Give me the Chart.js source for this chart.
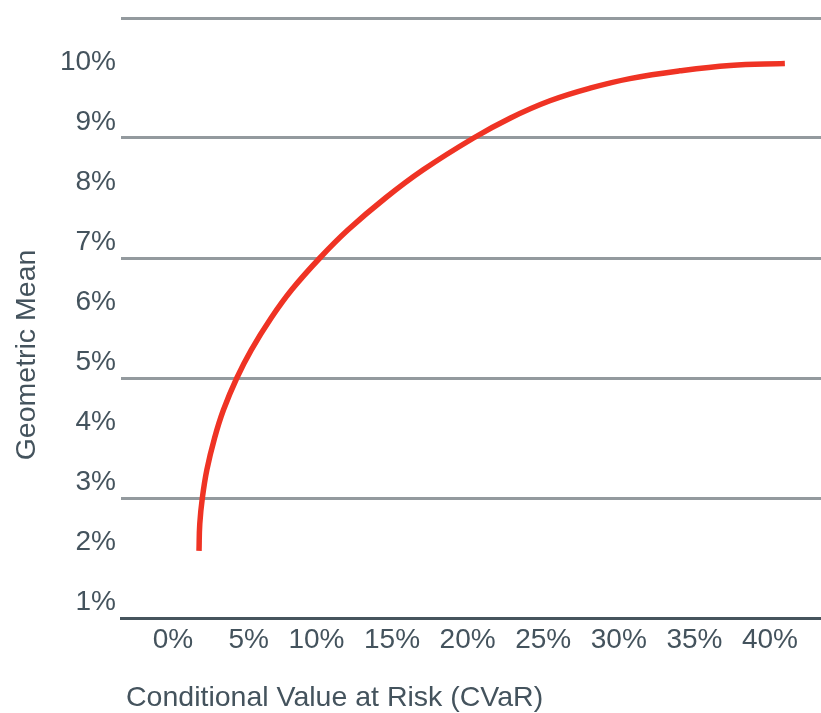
<!DOCTYPE html>
<html lang="en">
<head>
  <meta charset="UTF-8">
  <title>Geometric Mean vs CVaR</title>
  <style>
    html, body { margin: 0; padding: 0; background: #fff; }
    #wrap { width: 821px; height: 713px; }
  </style>
  <script src="https://cdn.jsdelivr.net/npm/chart.js"></script>
</head>
<body>
  <div id="wrap"><canvas id="chart"></canvas></div>

  <script>
    // frontier (percent)
    const cvar    = [0.38, 0.43, 0.60, 0.90, 1.41, 2.00, 2.88, 3.84, 5.15, 6.51, 8.37,
                     10.24, 12.71, 15.21, 18.54, 20.95, 23.59, 26.24, 28.88, 32.19, 35.50, 39.13];
    const geoMean = [1.83, 2.28, 2.71, 3.18, 3.71, 4.18, 4.71, 5.18, 5.71, 6.18, 6.71,
                     7.18, 7.71, 8.18, 8.71, 9.04, 9.33, 9.54, 9.70, 9.83, 9.92, 9.95];

    const xTicks = [0, 5, 10, 15, 20, 25, 30, 35, 40];
    const yTicks = [1, 2, 3, 4, 5, 6, 7, 8, 9, 10];
    // horizontal rules sit between the labels, not on them
    const yRules = [2.71, 4.71, 6.71, 8.71, 10.71];

    const xTitle = 'Conditional Value at Risk (CVaR)';
    const yTitle = 'Geometric Mean';

    const textColor = '#44535d';
    const ruleColor = '#939a9e';
    const axisColor = '#46545d';
    const lineColor = '#ef3324';
    const fontFamily = '"Liberation Sans", Arial, sans-serif';

    Chart.defaults.font.family = fontFamily;
    Chart.defaults.font.size = 28;
    Chart.defaults.color = textColor;

    // axis titles are placed off-centre in the original, so draw them here
    const axisTitles = {
      id: 'axisTitles',
      afterDraw(chart) {
        const { ctx, chartArea } = chart;
        ctx.save();
        ctx.fillStyle = textColor;
        ctx.font = '28.5px ' + fontFamily;
        ctx.textBaseline = 'alphabetic';
        ctx.textAlign = 'left';
        ctx.fillText(xTitle, chartArea.left + 5, chartArea.bottom + 88);
        ctx.translate(35, chartArea.top + 337);
        ctx.rotate(-Math.PI / 2);
        ctx.textAlign = 'center';
        ctx.fillText(yTitle, 0, 0);
        ctx.restore();
      }
    };

    new Chart(document.getElementById('chart'), {
      type: 'line',
      data: {
        datasets: [{
          label: yTitle,
          data: cvar.map((x, i) => ({ x, y: geoMean[i] })),
          borderColor: lineColor,
          borderWidth: 5.5,
          pointRadius: 0,
          fill: false,
          tension: 0.4
        }]
      },
      options: {
        responsive: true,
        maintainAspectRatio: false,
        animation: false,
        layout: { padding: { top: 18, left: 0, right: 0, bottom: 0 } },
        plugins: {
          legend: { display: false },
          tooltip: { enabled: false }
        },
        scales: {
          x: {
            type: 'linear',
            min: -4.78,
            max: 41.52,
            afterBuildTicks: s => { s.ticks = xTicks.map(v => ({ value: v })); },
            afterFit: s => { s.height = 95; s.paddingLeft = 0; s.paddingRight = 0; },
            grid: { display: false, drawTicks: false },
            border: { color: axisColor, width: 3 },
            ticks: {
              align: 'end',
              padding: 5,
              maxRotation: 0,
              autoSkip: false,
              callback: v => v + '%'
            }
          },
          y: {
            type: 'linear',
            min: 0.71,
            max: 10.71,
            afterBuildTicks: s => {
              s.ticks = yTicks.concat(yRules).sort((a, b) => a - b).map(v => ({ value: v }));
            },
            afterFit: s => { s.width = 121; s.paddingTop = 0; s.paddingBottom = 0; },
            border: { display: false },
            grid: {
              drawTicks: false,
              lineWidth: 3,
              color: c => yRules.includes(c.tick.value) ? ruleColor : 'transparent'
            },
            ticks: {
              padding: 5,
              labelOffset: 2,
              autoSkip: false,
              callback: v => yTicks.includes(v) ? v + '%' : ''
            }
          }
        }
      },
      plugins: [axisTitles]
    });
  </script>
</body>
</html>
